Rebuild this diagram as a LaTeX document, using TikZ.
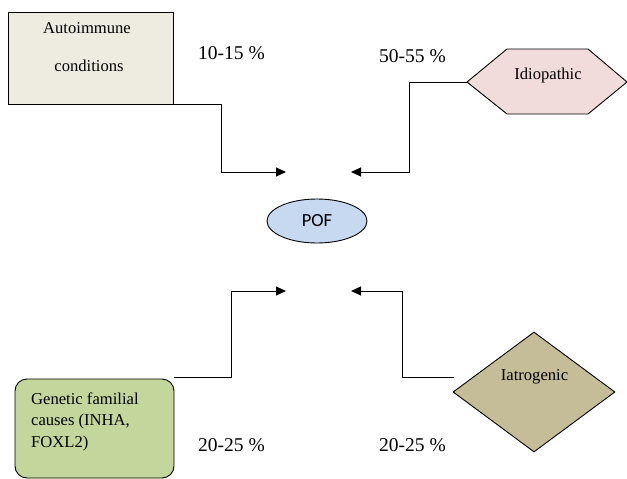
\documentclass[tikz,border=0pt]{standalone}
\usepackage{fontspec}
\setmainfont{Liberation Serif}
\newfontfamily\calibrifont{Carlito}
\usetikzlibrary{arrows.meta,shapes.geometric}
\definecolor{autofill}{HTML}{EEECE1}
\definecolor{idiofill}{HTML}{F2DCDB}
\definecolor{poffill}{HTML}{C6D9F1}
\definecolor{genfill}{HTML}{C3D69B}
\definecolor{iatrofill}{HTML}{C4BD97}
\tikzset{
  outline/.style={draw=black, line width=0.9pt},
  boxtext/.style={inner sep=0pt, font=\fontsize{16.6}{21.5}\selectfont},
  pct/.style={inner sep=0pt, anchor=base west, font=\fontsize{19.5}{22}\selectfont},
  conn/.style={draw=black, line width=1pt, -{Triangle[length=10pt,width=9pt]}},
}
\begin{document}
\begin{tikzpicture}[x=1pt,y=-1pt]
\useasboundingbox (0,0) rectangle (627,479);
% Autoimmune box
\node[outline, fill=autofill, rectangle, minimum width=165pt, minimum height=92pt, inner sep=0pt] (auto) at (90.5,58) {};
\node[boxtext, anchor=base] (autoA) at (87,33) {Autoimmune};
\node[boxtext, anchor=base] (autoB) at (89,71) {conditions};
% Idiopathic hexagon
\coordinate (idioL) at (467,82);
\draw[outline, fill=idiofill] (idioL) -- (507,49) -- (588,49) -- (627,82) -- (588,114) -- (507,114) -- cycle;
\node[boxtext, anchor=base] (idio) at (548,79) {Idiopathic};
% POF
\node[outline, fill=poffill, ellipse, minimum width=100pt, minimum height=44pt, inner sep=0pt,
      font=\calibrifont\fontsize{18.5}{20}\selectfont] (pof) at (317,221) {POF};
% Genetic box
\node[outline, fill=genfill, rectangle, rounded corners=12pt, minimum width=159pt, minimum height=99pt, inner sep=0pt] (gen) at (94.5,428.5) {};
\node[boxtext, anchor=north west, align=left] (gentext) at (31,392.6) {Genetic familial\\causes (INHA,\\FOXL2)};
% Iatrogenic diamond
\node[outline, fill=iatrofill, diamond, minimum width=162pt, minimum height=120pt, inner sep=0pt] (iatro) at (534,392) {};
\node[boxtext, anchor=base] (iatrotext) at (534.5,380) {Iatrogenic};
% percentages
\node[pct] (p1) at (198,59) {10-15 \%};
\node[pct] (p2) at (379,62) {50-55 \%};
\node[pct] (p3) at (198,451) {20-25 \%};
\node[pct] (p4) at (379,451) {20-25 \%};
% connector points
\coordinate (a0) at (158,104);
\coordinate (aB) at (221,172);
\coordinate (aE) at (286,172);
\coordinate (iB) at (409,172);
\coordinate (iE) at (351,172);
\coordinate (g0) at (174,377);
\coordinate (gB) at (231,291);
\coordinate (gE) at (286,291);
\coordinate (t0) at (454,377);
\coordinate (tB) at (402,291);
\coordinate (tE) at (351,291);
\draw[conn] (a0) -| (aB) -- (aE);
\draw[conn] (idioL) -| (iB) -- (iE);
\draw[conn] (g0) -| (gB) -- (gE);
\draw[conn] (t0) -| (tB) -- (tE);
\end{tikzpicture}
\end{document}
